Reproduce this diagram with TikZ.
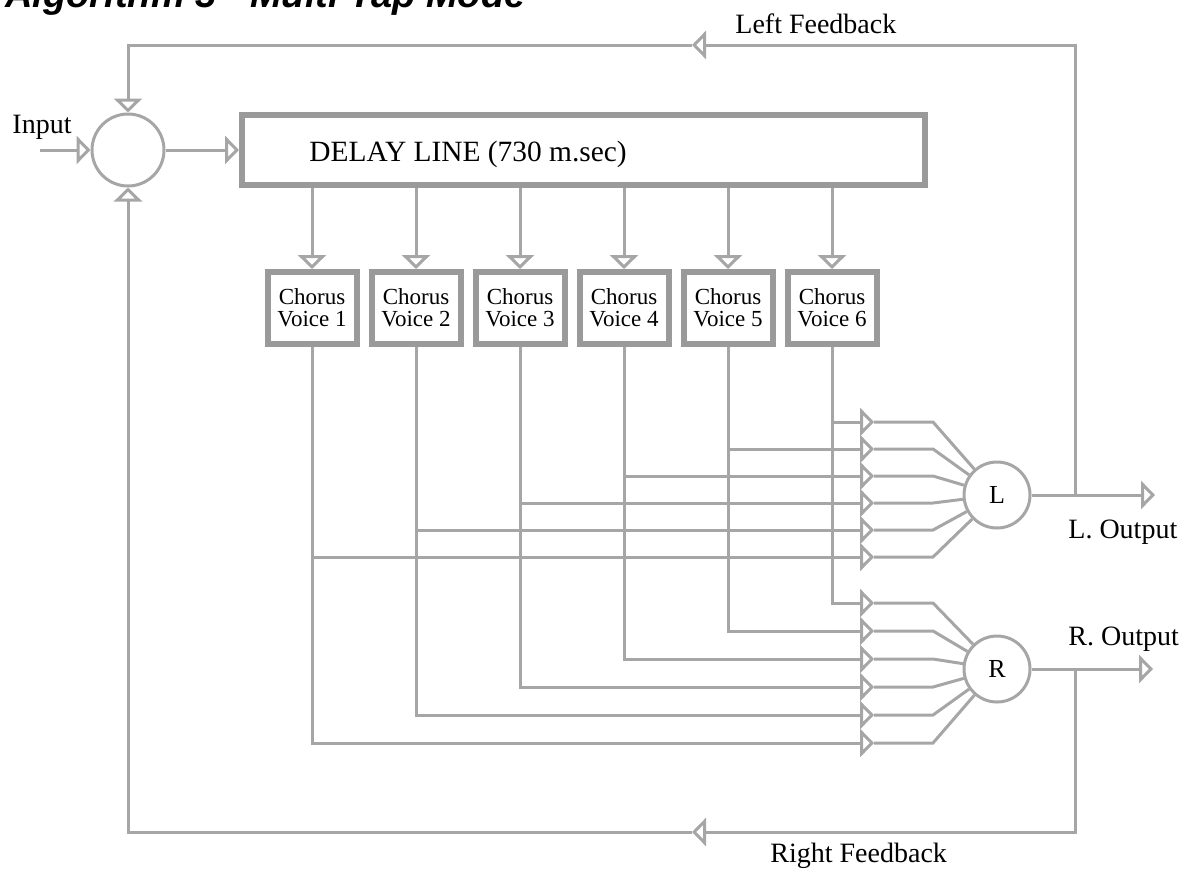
\documentclass[tikz,border=0pt]{standalone}
\usepackage{fontspec}
\setmainfont{Liberation Serif}
\newfontfamily\titlefont{Liberation Sans}
\usetikzlibrary{arrows.meta}
\definecolor{wire}{HTML}{A6A6A6}
\definecolor{rim}{HTML}{9A9A9A}

\begin{document}
\begin{tikzpicture}[x=0.5pt, y=-0.5pt,
  sig/.style={draw=wire, line width=1.5pt},
  tip/.style={-{Triangle[open, length=7pt, width=14pt]}},
  mixer/.style={circle, draw=wire, line width=1.5pt, inner sep=0pt, font=\fontsize{13}{14}\selectfont},
  chorusbox/.style={draw=rim, line width=3pt, minimum width=44.5pt, minimum height=36pt, inner sep=0pt,
    align=center, font=\fontsize{11.5}{11}\selectfont},
  lbl/.style={inner sep=0pt, font=\fontsize{14}{16}\selectfont}]
  \useasboundingbox (0,0) rectangle (1186,868);
  \node[anchor=base west, inner sep=0pt, font=\titlefont\bfseries\itshape\fontsize{19}{20}\selectfont] (title) at (5,7) {Algorithm 3 - Multi Tap Mode};

  % input summer and delay line
  \node[mixer, minimum size=36pt] (sum) at (128,150) {};
  \node[draw=rim, line width=3pt, minimum width=341.5pt, minimum height=35pt] (delay) at (583.5,150) {};
  \node[lbl, anchor=base west, font=\fontsize{14.7}{16}\selectfont] (dlbl) at (309,161) {DELAY LINE (730 m.sec)};
  \coordinate (in) at (40,150);
  \node[lbl, anchor=base] (inlbl) at (42,133) {Input};
  \draw[sig,tip] (in) -- (sum);
  \draw[sig,tip] (sum) -- (delay);

  % output mixers
  \node[mixer, minimum size=33pt] (L) at (997,495) {L};
  \node[mixer, minimum size=33pt] (R) at (997,669) {R};

  % taps, chorus voices and the mix busses
  \foreach \i in {1,...,6}{
    \node[chorusbox] (c\i) at ({312+104*(\i-1)},308) {Chorus\\Voice \i};
    \draw[sig,tip] (delay.south -| c\i) -- (c\i);
    \coordinate (lin\i) at (874,{557-27*(\i-1)});
    \coordinate (rin\i) at (874,{743-28*(\i-1)});
    \draw[sig,tip] (c\i) |- (rin\i);
    \draw[sig,tip] (c\i |- lin\i) -- (lin\i);
    \draw[sig] (lin\i) -- ++(59,0) -- (L);
    \draw[sig] (rin\i) -- ++(59,0) -- (R);
  }

  % outputs and feedback
  \coordinate (lout) at (1155,495); \coordinate (ljoin) at (1075,495);
  \coordinate (rout) at (1153,669); \coordinate (rjoin) at (1075,669);
  \coordinate (lfb) at (692,45); \coordinate (rfb) at (692,832);
  \draw[sig,tip] (L) -- (lout);
  \draw[sig,tip] (R) -- (rout);
  \draw[sig,tip] (ljoin) |- (lfb);
  \draw[sig,tip] (lfb) -| (sum);
  \draw[sig,tip] (rjoin) |- (rfb);
  \draw[sig,tip] (rfb) -| (sum);
  \node[lbl, anchor=base west] (loutlbl) at (1068,538) {L. Output};
  \node[lbl, anchor=base west] (routlbl) at (1068,645) {R. Output};
  \node[lbl, anchor=base west] (lfblbl) at (735,33) {Left Feedback};
  \node[lbl, anchor=base west] (rfblbl) at (770,862) {Right Feedback};
\end{tikzpicture}
\end{document}
